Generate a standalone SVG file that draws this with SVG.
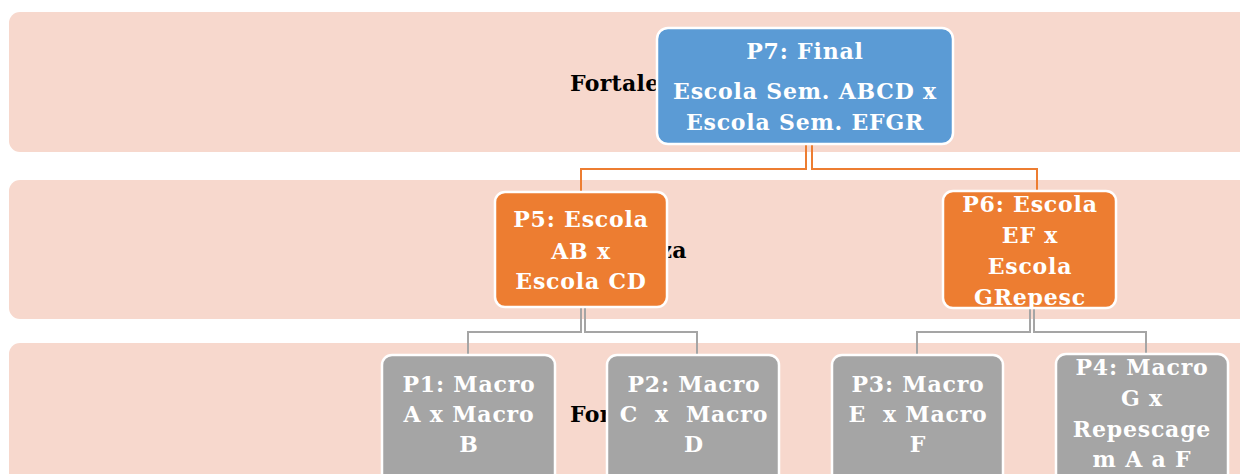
<svg xmlns="http://www.w3.org/2000/svg" width="1240" height="474" viewBox="0 0 1240 474">
<style>
.band{fill:#F7D8CD}
.blabel{font-family:"DejaVu Serif","Liberation Serif",serif;font-weight:bold;font-size:22px;letter-spacing:0.3px;fill:#000}
.node rect{stroke:#fff;stroke-width:2.5}
.blue{fill:#5B9BD5}
.orange{fill:#ED7D31}
.gray{fill:#A5A5A5}
.ntext{font-family:"DejaVu Serif","Liberation Serif",serif;font-weight:bold;font-size:22px;letter-spacing:0.8px;fill:#fff;text-anchor:middle}
.pre{white-space:pre}
.co{fill:none;stroke:#ED7D31;stroke-width:2}
.cg{fill:none;stroke:#A5A5A5;stroke-width:2}
</style>
<defs>
<clipPath id="clipP6"><rect x="943" y="191" width="173" height="117" rx="10"/></clipPath>
</defs>
<g id="bands">
<rect class="band" x="9" y="12" width="1250" height="140" rx="11"/>
<rect class="band" x="9" y="180" width="1250" height="139" rx="11"/>
<rect class="band" x="9" y="343" width="1250" height="150" rx="11"/>
<text class="blabel" x="570" y="91">Fortaleza</text>
<text class="blabel" x="570" y="258">Fortaleza</text>
<text class="blabel" x="570" y="422">Fortaleza</text>
</g>
<g id="connectors">
<path class="co" d="M806,144 V169 H581 V192"/>
<path class="co" d="M812,144 V169 H1037 V191"/>
<path class="cg" d="M581,307 V332 H468 V355"/>
<path class="cg" d="M585,307 V332 H697 V355"/>
<path class="cg" d="M1030,308 V332 H917 V355"/>
<path class="cg" d="M1034,308 V332 H1146 V354"/>
</g>
<g id="P7" class="node">
<rect class="blue" x="657" y="28" width="296" height="116" rx="11"/>
<text class="ntext" x="805" y="59">P7: Final</text>
<text class="ntext" x="805" y="99">Escola Sem. ABCD x</text>
<text class="ntext" x="805" y="130">Escola Sem. EFGR</text>
</g>
<g id="P5" class="node">
<rect class="orange" x="495" y="192" width="172" height="115" rx="10"/>
<text class="ntext" x="581" y="227">P5: Escola</text>
<text class="ntext" x="581" y="259">AB x</text>
<text class="ntext" x="581" y="289">Escola CD</text>
</g>
<g id="P6" class="node">
<rect class="orange" x="943" y="191" width="173" height="117" rx="10"/>
<g clip-path="url(#clipP6)">
<text class="ntext" x="1030" y="212">P6: Escola</text>
<text class="ntext" x="1030" y="243">EF x</text>
<text class="ntext" x="1030" y="274">Escola</text>
<text class="ntext" x="1030" y="305">GRepesc</text>
</g>
</g>
<g id="P1" class="node">
<rect class="gray" x="382" y="355" width="173" height="130" rx="10"/>
<text class="ntext" x="469" y="392">P1: Macro</text>
<text class="ntext" x="469" y="422">A x Macro</text>
<text class="ntext" x="469" y="452">B</text>
</g>
<g id="P2" class="node">
<rect class="gray" x="607" y="355" width="172" height="130" rx="10"/>
<text class="ntext" x="694" y="392">P2: Macro</text>
<text class="ntext pre" x="694" y="422">C  x  Macro</text>
<text class="ntext" x="694" y="452">D</text>
</g>
<g id="P3" class="node">
<rect class="gray" x="832" y="355" width="171" height="130" rx="10"/>
<text class="ntext" x="918" y="392">P3: Macro</text>
<text class="ntext pre" x="918" y="422">E  x Macro</text>
<text class="ntext" x="918" y="452">F</text>
</g>
<g id="P4" class="node">
<rect class="gray" x="1056" y="354" width="172" height="131" rx="10"/>
<text class="ntext" x="1142" y="375">P4: Macro</text>
<text class="ntext" x="1142" y="406">G x</text>
<text class="ntext" x="1142" y="437">Repescage</text>
<text class="ntext" x="1142" y="467">m A a F</text>
</g>
</svg>
